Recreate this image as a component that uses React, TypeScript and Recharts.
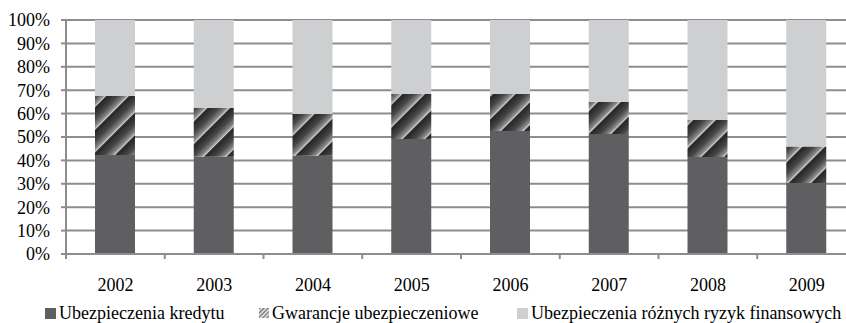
import React from 'react';
import { Bar, BarChart, CartesianGrid, Legend, XAxis, YAxis } from 'recharts';

const years = ['2002', '2003', '2004', '2005', '2006', '2007', '2008', '2009'];
const kredytu = [42.3, 41.6, 42.0, 49.1, 52.6, 51.3, 41.5, 30.3];
const gwarancje = [25.2, 20.9, 17.8, 19.3, 15.8, 13.8, 15.8, 15.6];
const rozne = [32.5, 37.5, 40.2, 31.6, 31.6, 34.9, 42.7, 54.1];
const yTicks = [0, 10, 20, 30, 40, 50, 60, 70, 80, 90, 100];

const seriesNames = [
  'Ubezpieczenia kredytu',
  'Gwarancje ubezpieczeniowe',
  'Ubezpieczenia różnych ryzyk finansowych'
];

const data = years.map((year, i) => ({
  year,
  kredytu: kredytu[i],
  gwarancje: gwarancje[i],
  rozne: rozne[i]
}));

const FONT = 'Liberation Serif, DejaVu Serif, serif';
const FONT_SIZE = 18;
const CHART_W = 870;
const MARGIN = { top: 20, right: 14, left: 6, bottom: 0 };
const Y_AXIS_W = 60;
const PLOT_W = CHART_W - MARGIN.left - MARGIN.right - Y_AXIS_W;
const BAND = PLOT_W / years.length;
const X_TICK_GAP = 24;
const GRID = '#8d8d8f';

// category label plus a short tick mark on the left edge of its band
function CategoryTick({ x, y, payload }: any) {
  const axisY = y - X_TICK_GAP;
  return (
    <g>
      <line x1={x - BAND / 2} x2={x - BAND / 2} y1={axisY} y2={axisY + 5} stroke={GRID} strokeWidth={2} />
      <text x={x} y={y} dy="0.71em" textAnchor="middle" fill="#000" fontSize={FONT_SIZE} style={{ fontFamily: FONT }}>
        {payload.value}
      </text>
    </g>
  );
}

function StripeIcon() {
  return (
    <svg width={10} height={10} style={{ display: 'block' }}>
      <defs>
        <pattern id="iconStripes" width="3" height="3" patternUnits="userSpaceOnUse" patternTransform="rotate(45)">
          <rect width="3" height="3" fill="#e6e6e6" />
          <rect width="1.3" height="3" fill="#707070" />
        </pattern>
      </defs>
      <rect width={10} height={10} fill="url(#iconStripes)" />
    </svg>
  );
}

const iconLeft = [45, 259, 517];

function ChartLegend() {
  return (
    <div style={{ position: 'relative', height: 20, width: 846, fontFamily: FONT, fontSize: FONT_SIZE, color: '#000' }}>
      {seriesNames.map((name, i) => (
        <div
          key={name}
          style={{ position: 'absolute', left: iconLeft[i], top: 0, display: 'flex', alignItems: 'center', whiteSpace: 'nowrap', height: 20 }}
        >
          {i === 1 ? (
            <StripeIcon />
          ) : (
            <div style={{ width: 11, height: 11, background: i === 0 ? '#5f5f61' : '#cecfd1' }} />
          )}
          <span style={{ marginLeft: 3 }}>{name}</span>
        </div>
      ))}
    </div>
  );
}

export default function App() {
  return (
    <div style={{ position: 'absolute', left: 0, top: 0, width: 846, height: 323, overflow: 'hidden', background: '#fff' }}>
      <BarChart width={CHART_W} height={323} data={data} margin={MARGIN}>
        <defs>
          <linearGradient id="stripeShade" x1="0" y1="0" x2="1" y2="0">
            <stop offset="0" stopColor="#262626" />
            <stop offset="0.45" stopColor="#474747" />
            <stop offset="0.8" stopColor="#8a8a8a" />
            <stop offset="0.93" stopColor="#dcdcdc" />
            <stop offset="0.96" stopColor="#fafafa" />
            <stop offset="0.97" stopColor="#141414" />
            <stop offset="1" stopColor="#202020" />
          </linearGradient>
          <pattern id="stripes" width="16" height="16" patternUnits="userSpaceOnUse" patternTransform="rotate(45)">
            <rect width="16" height="16" fill="url(#stripeShade)" />
          </pattern>
        </defs>
        <CartesianGrid vertical={false} stroke={GRID} strokeWidth={2} />
        <XAxis
          dataKey="year"
          height={49}
          tickSize={0}
          tickMargin={X_TICK_GAP}
          tick={<CategoryTick />}
          axisLine={{ stroke: GRID, strokeWidth: 2 }}
          tickLine={false}
          interval={0}
        />
        <YAxis
          width={Y_AXIS_W}
          domain={[0, 100]}
          ticks={yTicks}
          tickFormatter={(v: number) => `${v}%`}
          tickSize={5}
          tickMargin={11}
          tickLine={{ stroke: GRID, strokeWidth: 2 }}
          axisLine={{ stroke: GRID, strokeWidth: 2 }}
          tick={{ fill: '#000', fontSize: FONT_SIZE, style: { fontFamily: FONT } }}
          interval={0}
        />
        <Legend verticalAlign="bottom" height={20} content={() => <ChartLegend />} wrapperStyle={{ left: 0, bottom: 0 }} />
        <Bar dataKey="kredytu" name={seriesNames[0]} stackId="a" fill="#5f5f61" barSize={40} isAnimationActive={false} />
        <Bar dataKey="gwarancje" name={seriesNames[1]} stackId="a" fill="url(#stripes)" barSize={40} isAnimationActive={false} />
        <Bar dataKey="rozne" name={seriesNames[2]} stackId="a" fill="#cecfd1" barSize={40} isAnimationActive={false} />
      </BarChart>
    </div>
  );
}
